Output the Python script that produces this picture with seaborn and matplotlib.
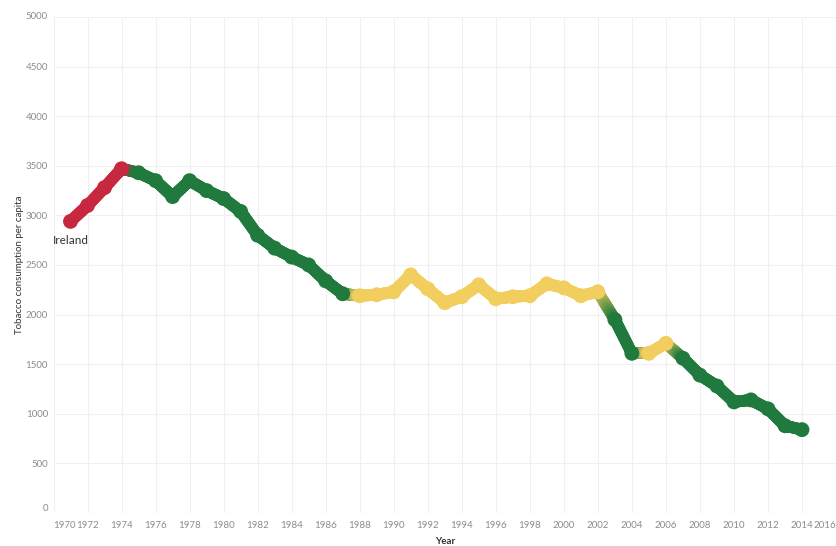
import matplotlib
matplotlib.use("Agg")
import numpy as np
import pandas as pd
import matplotlib.pyplot as plt
import seaborn as sns
from matplotlib.collections import LineCollection
from matplotlib.colors import to_rgb

# ---- data ----
years = list(range(1971, 2015))
consumption = [2940, 3100, 3280, 3470, 3430, 3350, 3190, 3350, 3250, 3170,
               3040, 2800, 2670, 2580, 2500, 2340, 2210, 2190, 2200, 2230,
               2400, 2260, 2120, 2180, 2300, 2160, 2180, 2190, 2310, 2270,
               2190, 2230, 1950, 1610, 1610, 1710, 1560, 1390, 1280, 1120,
               1140, 1050, 880, 840]
trend = (["Rising"] * 4 + ["Falling"] * 13 + ["Stable"] * 15 +
         ["Falling"] * 2 + ["Stable"] * 2 + ["Falling"] * 8)
country = "Ireland"
x_ticks = list(range(1970, 2017, 2))
y_ticks = list(range(0, 5001, 500))

palette = {"Rising": "#C8283F", "Falling": "#217A3D", "Stable": "#F2CE5E"}

df = pd.DataFrame({"Year": years, "Consumption": consumption, "Trend": trend})

sns.set_style("white")
plt.rcParams["font.family"] = ["Lato", "DejaVu Sans"]

fig = plt.figure(figsize=(8.36, 5.46), dpi=100)
ax = fig.add_axes([53.5 / 836, 1 - 513 / 546, 1 - 53.5 / 836, (513 - 17) / 546])

# gradient line between consecutive points
segs, cols = [], []
n_sub = 24
for i in range(len(df) - 1):
    x0, y0 = df.Year[i], df.Consumption[i]
    x1, y1 = df.Year[i + 1], df.Consumption[i + 1]
    c0 = np.array(to_rgb(palette[df.Trend[i]]))
    c1 = np.array(to_rgb(palette[df.Trend[i + 1]]))
    for k in range(n_sub):
        t0, t1 = k / n_sub, (k + 1) / n_sub
        segs.append([(x0 + (x1 - x0) * t0, y0 + (y1 - y0) * t0),
                     (x0 + (x1 - x0) * t1, y0 + (y1 - y0) * t1)])
        tm = (t0 + t1) / 2
        cols.append(tuple(c0 * (1 - tm) + c1 * tm))
lc = LineCollection(segs, colors=cols, linewidths=8.5, capstyle="round",
                    joinstyle="round", zorder=2)
ax.add_collection(lc)

sns.scatterplot(data=df, x="Year", y="Consumption", hue="Trend",
                palette=palette, s=115, linewidth=0, legend=False,
                ax=ax, zorder=3)

ax.set_xlim(1970, 2016)
ax.set_ylim(0, 5000)
ax.set_xticks(x_ticks)
ax.set_yticks(y_ticks)
ax.grid(True, color="#F0F0F0", linewidth=0.8)
ax.set_axisbelow(True)
for s in ax.spines.values():
    s.set_visible(False)

ax.tick_params(axis="both", length=0, labelsize=7, labelcolor="#8C8C8C")
ax.tick_params(axis="x", pad=6)
ax.tick_params(axis="y", pad=4)
xl = ax.get_xticklabels()
xl[0].set_horizontalalignment("left")
xl[-1].set_horizontalalignment("right")
yl = ax.get_yticklabels()
yl[0].set_verticalalignment("bottom")
yl[-1].set_verticalalignment("center")

ax.set_xlabel("Year", fontsize=7, color="#333333", fontweight="bold")
ax.set_ylabel("Tobacco consumption per capita", fontsize=7, color="#333333")
ax.xaxis.set_label_coords(0.5, -(541 - 513) / 496)
ax.yaxis.set_label_coords(-(53.5 - 20) / 782.5, 0.5)
ax.xaxis.label.set_verticalalignment("center")
ax.yaxis.label.set_verticalalignment("center")

ax.annotate(country, xy=(df.Year[0], df.Consumption[0]), xytext=(0, -19),
            textcoords="offset pixels", ha="center", va="center",
            fontsize=8.5, color="#333333")

fig.savefig("out.png", dpi=100)
